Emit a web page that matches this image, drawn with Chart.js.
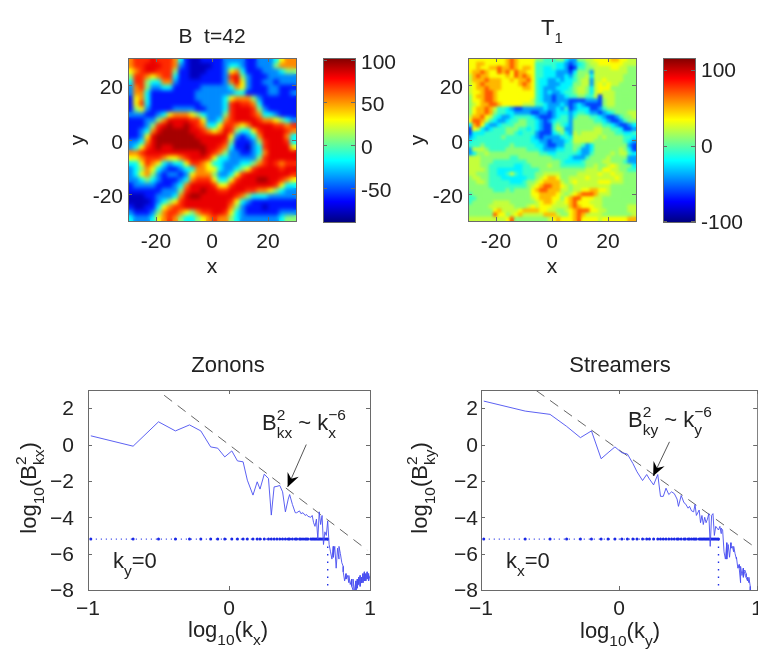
<!DOCTYPE html>
<html><head><meta charset="utf-8"><title>Zonons and streamers</title>
<script src="https://cdn.jsdelivr.net/npm/chart.js@4"></script>
<style>
html,body{margin:0;padding:0;background:#fff;overflow:hidden;width:758px;height:650px}
canvas{position:absolute;left:0;top:0;filter:blur(.45px)}
</style></head><body>
<canvas id="c1" width="770" height="660"></canvas>
<canvas id="c2" width="770" height="660"></canvas>
<canvas id="c3" width="770" height="660"></canvas>
<canvas id="c4" width="770" height="660"></canvas>
<canvas id="c5" width="770" height="660"></canvas>
<canvas id="c6" width="770" height="660"></canvas>
<script>
// ---------- heat-map values: each digit is an index into the level list ----------
const bLevels=[-78,-62,-40,-18,8,30,52,70,82,95];
const bRows=[
"677787776310011112222112223566","677888776210000112332112224666","567887774110001112563111222344",
"477656773110011112784211122222","377433662111111112685211221222","267422331111122222365211122111",
"266311111111222222233111122112","156311111111222223566642111111","157311111111122223787763111111",
"145211112222112223788874211111","222112356665432224788876332111","111224688887752236788887665432",
"111247898898763357765688887767","112368999998876568743357888876","112589999999888888521236888863",
"223689999999988887411124788873","235789889999998876311023788885","667888888888898764221123688888",
"556777655678887533222224788888","335765323357765332223346787677","234653211233665532234578888788",
"235642122125666422357888888887","223432111236777533578889988765","122221112368888755788888887533",
"111111222478898877888776654322","000112223689988888876433322222","000012345788888888753211111111",
"100113567788888888642111011111","211124677654677887532111111222","322235676433456766432222222344"];
const tLevels=[-80,-60,-40,-22,-8,10,22,34,50,70];
const tRows=[
"7777777778987777554445532255667777887766","7788777778987777444443321234566777777666","7787788988987887443343320144556666776655",
"7889877989798877443332221355526666666655","6898877778798987443332232455636666666555","6888988877878897433223233456626676666555",
"6789888877778987433222333556626767665555","6788988877777887432223334566536777555555","6778998777777777432322344566536766655555",
"5788998777777777432212234455446166655555","5778998777777776432212221111222156655555","5678899877777666443222321232111156655555",
"5788986443211222223223241233311245555555","5788985443322221122123332344322123455566","6889764322344443211123442455544321124556",
"7998643223445544321234442555554432112455","3897322344455544321145432555555544321123","1763234445554434321146522555556655443112",
"1333444445543444211134532656666655544334","2344444454444443212222343666666565555443","3444444444444443322122234666665555555432",
"4445444444544444332112244554235555555521","2666544445555544432223344542235555556531","2355655555555555544334444432245555656643",
"6665555555445555555544443222455556555522","6665554444444455555555433334555566555422","6665544444433445555655444444556556765553",
"6666544333333444455555555555666577665544","6655544334643444556666555566666766766555","5665544433333344567887556666766666676555",
"5566544444333455678888656766666777666555","5555544444444456789988765666666666555555","5555554445455557899888665667788776555555",
"4555555555555557788887656789998666555555","4455555555555556788877578997776655555555","4555556666555555678876678977766655555555",
"5555566666655567677766668987776655555566","5555557866667888877665567899977665555566","5555559775678666668886557898666655555556",
"6666666667955555555678777897777677777788"];
// ---------- spectra ----------
const logK=[-.98,-.68,-.5,-.38,-.28,-.2,-.13,-.08,-.03,.02,.06,.1,.13,.17,.2,.22,.25,.28,.3,.32,.34,.36,.38,.4,.42,.43,.45,.47,.48,.5,.51,.525,.54,.55,.56,.58,.59,.6,.61,.62,.63,.64,.65,.66,.67,.68,.69,.7,.71,.72,.73,.74,.74,.75,.76,.77,.78,.78,.79,.8,.81,.81,.82,.83,.83,.84,.85,.85,.86,.87,.87,.88,.88,.89,.9,.9,.91,.91,.92,.92,.93,.93,.94,.94,.95,.95,.96,.96,.97,.97,.98,.98,.99,.99,1];
const zononY=[.48,-.09,1.25,.75,1.08,.75,-.13,-.2,-.68,-.35,-.9,-.95,-1.96,-2.78,-2.05,-2.45,-1.63,-1.87,-3.88,-2.33,-2.3,-2.25,-2.6,-3.7,-3,-2.75,-3.3,-3.75,-3.75,-3.65,-3.8,-3.75,-3.9,-3.85,-3.95,-4,-3.9,-4.3,-4.5,-4.1,-5.2,-3.7,-4.4,-3.9,-5.5,-4.8,-5,-4.2,-5.5,-5.9,-6.3,-5.6,-6.2,-5.6,-6.8,-5.7,-6.3,-5.6,-6,-6.5,-6.7,-7,-7.5,-7.1,-7.4,-7.2,-7.6,-7.2,-7.7,-7.4,-7.8,-8,-7.4,-8.1,-7.5,-8.2,-7.4,-7.9,-7.3,-7.7,-7.2,-7.8,-7.3,-7.6,-7.1,-7.6,-7,-7.5,-7.1,-7.5,-7,-7.4,-7.1,-7.5,-7.2];
const streamerY=[2.39,1.84,1.66,1,.38,.75,-.78,-.45,-.13,-.45,-.52,-1.04,-1.5,-1.98,-1.65,-1.9,-2.22,-1.65,-2.85,-2.85,-2.4,-2.75,-2.6,-2.7,-3,-3.4,-2.8,-3.2,-3.25,-3.5,-3.4,-3.65,-3.7,-3.3,-3.9,-3.6,-4.3,-3.9,-4.4,-4,-4.3,-4.1,-3.8,-5.6,-3.9,-3.8,-5,-4.5,-4.6,-4.7,-4.5,-4.9,-4.6,-4.7,-5.9,-6.3,-5.4,-6.3,-5.5,-6.2,-5.4,-5.7,-5.6,-5.9,-5.6,-6,-6.3,-6.2,-6.8,-6.6,-6.8,-7.6,-6.7,-7.2,-6.8,-7.3,-7,-6.9,-7.1,-7.3,-7.5,-7.3,-7.6,-7.3,-7.8,-8.2];
const floorY=-5.2;
const zononFitX=[-.46,.98], zononFitY=[2.71,-5.8];
const streamerFitX=[-.6,.99], streamerFitY=[2.97,-5.68];
const zononCutX=[.7,.7], streamerCutX=[.72,.72], cutY=[-5.2,-8];
const zononDots=48, streamerDots=50;
// ---------- ticks ----------
const heatTicks=[-20,0,20];
const bBarTicks=[-50,0,50,100], tBarTicks=[-100,0,100];
const specXTicks=[-1,0,1], specYTicks=[-8,-6,-4,-2,0,2];

const FONT='"Liberation Sans",Arial,sans-serif', INK='#222', EDGE='#6a6a6a', BIG=21, TXT=22, SMALL=15.5;
function jet(t){t=Math.max(0,Math.min(1,t));
  const f=a=>Math.round(255*Math.max(0,Math.min(1,1.5-Math.abs(4*t-a))));
  return `rgb(${f(3)},${f(2)},${f(1)})`;}
const sup=(t)=>({t,size:SMALL,dy:-10,keep:true});
const sub=(t)=>({t,size:SMALL,dy:8});
const subK=(t)=>({t,size:SMALL,dy:8,keep:true});
const supE=(t)=>({t,size:SMALL,dy:-10});

function decor(spec){return{id:'decor',
  afterDatasetsDraw(chart){
    if(!spec.blur)return;
    const a=chart.chartArea,c=chart.ctx;c.save();c.beginPath();c.rect(a.left,a.top,a.right-a.left,a.bottom-a.top);c.clip();
    c.filter=`blur(${spec.blur}px)`;
    c.drawImage(chart.canvas,a.left,a.top,a.right-a.left,a.bottom-a.top,a.left,a.top,a.right-a.left,a.bottom-a.top);
    c.restore();},
  afterDraw(chart){
    const a=chart.chartArea,c=chart.ctx;c.save();
    c.strokeStyle=EDGE;c.lineWidth=1;c.strokeRect(a.left+.5,a.top+.5,a.right-a.left,a.bottom-a.top);
    for(const id of Object.keys(chart.scales)){const s=chart.scales[id];if(!s.options.display)continue;
      for(const t of s.ticks){const p=Math.round(s.getPixelForValue(t.value))+.5;c.beginPath();
        if(s.axis==='x'){c.moveTo(p,a.bottom);c.lineTo(p,a.bottom-4);c.moveTo(p,a.top);c.lineTo(p,a.top+4);}
        else{c.moveTo(a.left,p);c.lineTo(a.left+4,p);c.moveTo(a.right,p);c.lineTo(a.right-4,p);}
        c.stroke();}}
    (spec.arrows||[]).forEach(ar=>{
      const x0=chart.scales.x.getPixelForValue(ar.from[0]),y0=chart.scales.y.getPixelForValue(ar.from[1]);
      const x1=chart.scales.x.getPixelForValue(ar.to[0]),y1=chart.scales.y.getPixelForValue(ar.to[1]);
      const th=Math.atan2(y1-y0,x1-x0);
      c.strokeStyle='#555';c.lineWidth=1;c.beginPath();c.moveTo(x0,y0);c.lineTo(x1,y1);c.stroke();
      c.fillStyle='#000';c.beginPath();c.moveTo(x1,y1);
      c.lineTo(x1-15*Math.cos(th-.42),y1-15*Math.sin(th-.42));
      c.lineTo(x1-9*Math.cos(th),y1-9*Math.sin(th));
      c.lineTo(x1-15*Math.cos(th+.42),y1-15*Math.sin(th+.42));c.closePath();c.fill();});
    (spec.texts||[]).forEach(tx=>{
      c.save();c.translate(tx.x,tx.y);if(tx.rot)c.rotate(tx.rot);c.fillStyle=INK;c.textBaseline='alphabetic';c.textAlign='left';
      const meas=r=>{c.font=`${r.size||TXT}px ${FONT}`;return c.measureText(r.t).width;};
      let total=0,st=0;tx.runs.forEach(r=>{const w=meas(r);if(r.keep)st=w;else{total+=Math.max(w,st);st=0;}});
      let x=tx.center?-total/2:0;st=0;
      tx.runs.forEach(r=>{const w=meas(r);c.fillText(r.t,x,r.dy||0);if(r.keep)st=w;else{x+=Math.max(w,st);st=0;}});
      c.restore();});
    c.restore();}};}

const minus=v=>String(v).replace('-','\u2212');
function baseScale(ticks,padding,labelOffset,extra,callback){
  const t={autoSkip:false,maxRotation:0,padding,labelOffset,color:INK,font:{family:FONT,size:BIG}};
  if(callback)t.callback=callback;
  return Object.assign({
  type:'linear',grid:{display:false,drawTicks:false},border:{display:false},
  afterBuildTicks(s){s.ticks=ticks.map(v=>({value:v}));},
  ticks:t},extra);}
function area(box,W,H){return{left:box.l-W,top:box.t,right:770-box.r,bottom:660-box.b-H};}

function heat(id,box,rows,levels,vmin,vmax,blur,specTexts){
  const pts=[],n=rows.length,side=(box.r-box.l)/n,dx=60/n;
  rows.forEach((row,r)=>[...row].forEach((d,c)=>pts.push({x:-30+dx*(c+.5),y:30-dx*(r+.5),v:levels[+d]})));
  new Chart(document.getElementById(id),{type:'scatter',
    data:{datasets:[{data:pts,parsing:false,clip:0,pointStyle:'rect',pointRadius:side*1.12/Math.SQRT2,pointBorderWidth:0,
      backgroundColor:ctx=>jet((ctx.raw.v-vmin)/(vmax-vmin))}]},
    options:{responsive:false,animation:false,events:[],layout:{padding:area(box,60,40)},
      plugins:{legend:{display:false},tooltip:{enabled:false}},
      scales:{x:baseScale(heatTicks,9,0,{min:-30,max:30,afterFit(s){s.height=40;}}),
              y:baseScale(heatTicks,5,3.5,{min:-30,max:30,afterFit(s){s.width=60;}})}},
    plugins:[decor({blur,texts:specTexts})]});}

function bar(id,box,vmin,vmax,ticks,off){
  new Chart(document.getElementById(id),{type:'bar',
    data:{labels:[''],datasets:[{data:[[vmin,vmax]],barPercentage:1,categoryPercentage:1,borderWidth:0,
      backgroundColor:ctx=>{const a=ctx.chart.chartArea;if(!a)return '#00f';
        const g=ctx.chart.ctx.createLinearGradient(0,a.bottom,0,a.top);
        for(let i=0;i<=8;i++)g.addColorStop(i/8,jet(i/8));return g;}}]},
    options:{responsive:false,animation:false,events:[],
      layout:{padding:{left:box.l,top:box.t,right:770-box.r-60,bottom:660-box.b}},
      plugins:{legend:{display:false},tooltip:{enabled:false}},
      scales:{x:{display:false},
        y:baseScale(ticks,6,off,{position:'right',min:vmin,max:vmax,afterFit(s){s.width=60;}})}},
    plugins:[decor({})]});}

function spectrum(id,box,ys,fitX,fitY,cutX,dots,padY,spec){
  const line=ys.map((y,i)=>({x:logK[i],y}));
  const floor=logK.slice(0,dots).map(x=>({x,y:floorY}));
  const fit=fitX.map((x,i)=>({x,y:fitY[i]}));
  const cut=cutX.map((x,i)=>({x,y:cutY[i]}));
  new Chart(document.getElementById(id),{type:'scatter',
    data:{datasets:[
      {data:line,showLine:true,clip:0,borderColor:'#4a4ff0',borderWidth:.9,pointRadius:0},
      {data:fit,showLine:true,clip:0,borderColor:'#666',borderWidth:1,borderDash:[10,7],pointRadius:0},
      {data:floor,showLine:true,clip:0,borderColor:'#2030e6',borderWidth:1.2,borderDash:[1,4],pointRadius:1.5,pointBorderWidth:0,backgroundColor:'#1a28e6'},
      {data:cut,showLine:true,clip:0,borderColor:'#2030e6',borderWidth:1.4,borderDash:[1.5,6],pointRadius:0}]},
    options:{responsive:false,animation:false,events:[],layout:{padding:area(box,70,40)},
      plugins:{legend:{display:false},tooltip:{enabled:false}},
      scales:{x:baseScale(specXTicks,7,0,{min:-1,max:1,afterFit(s){s.height=40;}},minus),
              y:baseScale(specYTicks,padY,1.5,{min:-8,max:3,afterFit(s){s.width=70;}},minus)}},
    plugins:[decor(spec)]});}

const R=-Math.PI/2;
heat('c1',{l:128,r:296,t:58,b:221},bRows,bLevels,-90,102,2,[
  {x:212,y:43,center:true,runs:[{t:'B  t=42',size:21}]},
  {x:212,y:273,center:true,runs:[{t:'x',size:21}]},
  {x:84,y:140,rot:R,center:true,runs:[{t:'y',size:21}]}]);
bar('c2',{l:323,r:355,t:58,b:222},-90,102,bBarTicks,3);
heat('c3',{l:468,r:636,t:58,b:221},tRows,tLevels,-101,116,1.4,[
  {x:552,y:35,center:true,runs:[{t:'T',size:22},{t:'1',size:15,dy:8}]},
  {x:552,y:273,center:true,runs:[{t:'x',size:21}]},
  {x:424,y:140,rot:R,center:true,runs:[{t:'y',size:21}]}]);
bar('c4',{l:663,r:695,t:58,b:222},-101,116,tBarTicks,1.5);
spectrum('c5',{l:88,r:370,t:390,b:590},zononY,zononFitX,zononFitY,zononCutX,zononDots,14,{
  arrows:[{from:[.548,0],to:[.416,-2.33]}],
  texts:[
   {x:228,y:372,center:true,runs:[{t:'Zonons'}]},
   {x:228,y:637,center:true,runs:[{t:'log'},sub('10'),{t:'(k'},sub('x'),{t:')'}]},
   {x:36,y:488,rot:R,center:true,runs:[{t:'log'},sub('10'),{t:'(B'},sup('2'),sub('kx'),{t:')'}]},
   {x:262,y:430,runs:[{t:'B'},sup('2'),sub('kx'),{t:' ~ '},{t:'k'},subK('x'),supE('\u22126')]},
   {x:113,y:568,runs:[{t:'k'},sub('y'),{t:'=0'}]}]});
spectrum('c6',{l:481,r:759,t:390,b:590},streamerY,streamerFitX,streamerFitY,streamerCutX,streamerDots,3,{
  arrows:[{from:[.365,.15],to:[.247,-1.73]}],
  texts:[
   {x:620,y:372,center:true,runs:[{t:'Streamers'}]},
   {x:620,y:638,center:true,runs:[{t:'log'},sub('10'),{t:'(k'},sub('y'),{t:')'}]},
   {x:427,y:488,rot:R,center:true,runs:[{t:'log'},sub('10'),{t:'(B'},sup('2'),sub('ky'),{t:')'}]},
   {x:628,y:427,runs:[{t:'B'},sup('2'),sub('ky'),{t:' ~ '},{t:'k'},subK('y'),supE('\u22126')]},
   {x:506,y:568,runs:[{t:'k'},sub('x'),{t:'=0'}]}]});
</script>
</body></html>
